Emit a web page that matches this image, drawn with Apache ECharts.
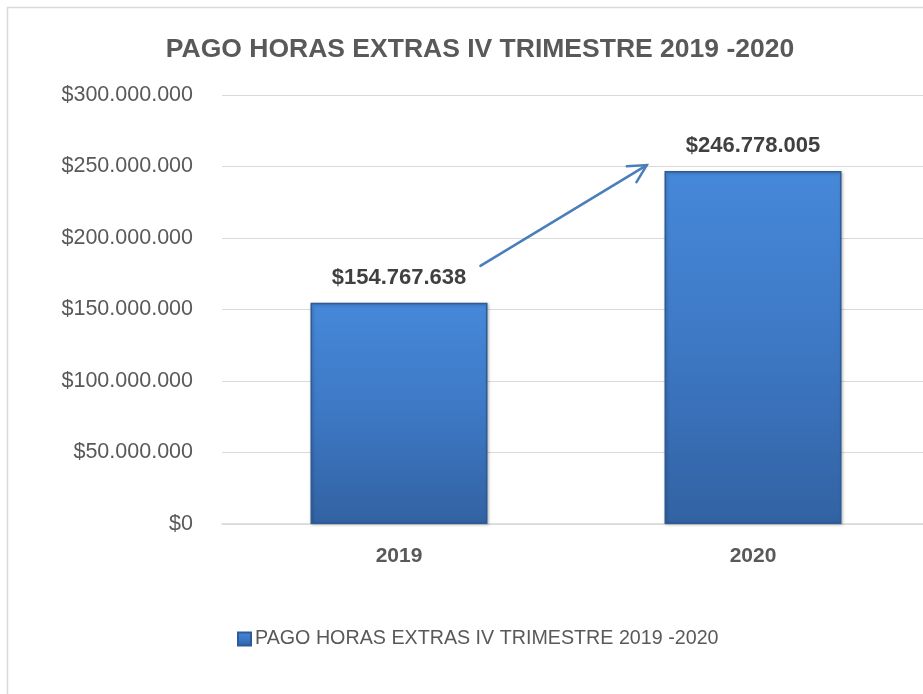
<!DOCTYPE html>
<html>
<head>
<meta charset="utf-8">
<script src="https://cdn.jsdelivr.net/npm/echarts@6/dist/echarts.min.js"></script>
<style>
  html, body { margin: 0; padding: 0; background: #fff; overflow: hidden; }
  /* el area de trazado continua un poco mas alla del borde derecho */
  #main { width: 930px; height: 694px; }
</style>
</head>
<body>
<div id="main"></div>
<script>
// datos del grafico
var titulo = 'PAGO HORAS EXTRAS IV TRIMESTRE 2019 -2020';
var anios = ['2019', '2020'];
var valores = [154767638, 246778005];
var ticksY = [0, 50000000, 100000000, 150000000, 200000000, 250000000, 300000000];
// flecha: de (fraccion de categoria, valor) a (fraccion, valor)
var flechaDesde = [0.23, 180500000];
var flechaHasta = [0.70, 251000000];

function pesos(v) {
  var s = Math.round(v).toString().replace(/\B(?=(\d{3})+(?!\d))/g, '.');
  return '$' + s;
}

var gris = '#595959';
var barColor = new echarts.graphic.LinearGradient(0, 0, 0, 1, [
  { offset: 0, color: '#4688d9' },
  { offset: 0.5, color: '#3d78c4' },
  { offset: 1, color: '#3262a2' }
]);

var chart = echarts.init(document.getElementById('main'));
var option = {
  animation: false,
  backgroundColor: '#fff',
  title: {
    text: titulo,
    left: 475,
    textAlign: 'center',
    top: 31,
    textStyle: { color: gris, fontSize: 26.5, fontWeight: 'bold', fontFamily: 'Liberation Sans' }
  },
  legend: {
    left: 232,
    top: 624,
    itemWidth: 13,
    itemHeight: 13,
    itemGap: 8,
    icon: 'rect',
    textStyle: { color: gris, fontSize: 19.7, fontFamily: 'Liberation Sans', padding: [2, 0, 0, -1] },
    data: [titulo]
  },
  grid: { left: 222, right: 0, top: 95, bottom: 170, containLabel: false },
  xAxis: {
    type: 'category',
    data: anios,
    axisTick: { show: false },
    axisLine: { lineStyle: { color: '#d9d9d9', width: 1.5 } },
    axisLabel: { color: gris, fontSize: 21, fontWeight: 'bold', fontFamily: 'Liberation Sans', margin: 22 }
  },
  yAxis: {
    type: 'value',
    min: ticksY[0],
    max: ticksY[ticksY.length - 1],
    interval: ticksY[1] - ticksY[0],
    axisLine: { show: false },
    axisTick: { show: false },
    splitLine: { lineStyle: { color: '#d9d9d9', width: 1 } },
    axisLabel: { color: gris, fontSize: 21.5, fontFamily: 'Liberation Sans', margin: 29, formatter: pesos }
  },
  series: [{
    name: titulo,
    type: 'bar',
    data: valores,
    barWidth: '50%',
    itemStyle: {
      color: barColor,
      borderColor: '#2c5b98',
      borderWidth: 1.5,
      shadowColor: 'rgba(0,0,0,0.25)',
      shadowBlur: 3,
      shadowOffsetX: 1,
      shadowOffsetY: 1
    },
    label: {
      show: true,
      position: 'top',
      distance: 14,
      color: '#404040',
      fontSize: 22,
      fontWeight: 'bold',
      fontFamily: 'Liberation Sans',
      formatter: function (p) { return pesos(p.value); }
    }
  }]
};
chart.setOption(option);

// borde del area del grafico y flecha
var x0 = chart.convertToPixel({ xAxisIndex: 0 }, anios[0]);
var x1 = chart.convertToPixel({ xAxisIndex: 0 }, anios[1]);
var paso = x1 - x0;
var a = [x0 + flechaDesde[0] * paso, chart.convertToPixel({ yAxisIndex: 0 }, flechaDesde[1])];
var b = [x0 + flechaHasta[0] * paso, chart.convertToPixel({ yAxisIndex: 0 }, flechaHasta[1])];
var ang = Math.atan2(b[1] - a[1], b[0] - a[0]);
var largo = 20, abre = Math.PI / 6.5;
var p1 = [b[0] - largo * Math.cos(ang - abre), b[1] - largo * Math.sin(ang - abre)];
var p2 = [b[0] - largo * Math.cos(ang + abre), b[1] - largo * Math.sin(ang + abre)];
var colorFlecha = '#4a7ebb';

chart.setOption({
  graphic: [
    {
      type: 'rect',
      shape: { x: 7.5, y: 7.5, width: 1000, height: 1000 },
      style: { fill: 'none', stroke: '#d9d9d9', lineWidth: 1.5 },
      silent: true
    },
    {
      type: 'line',
      shape: { x1: a[0], y1: a[1], x2: b[0], y2: b[1] },
      style: { stroke: colorFlecha, lineWidth: 2.5, lineCap: 'round' }
    },
    {
      type: 'polyline',
      shape: { points: [p1, b, p2] },
      style: { stroke: colorFlecha, lineWidth: 2.5, fill: 'none', lineCap: 'round', lineJoin: 'miter' }
    }
  ]
});
</script>
</body>
</html>
